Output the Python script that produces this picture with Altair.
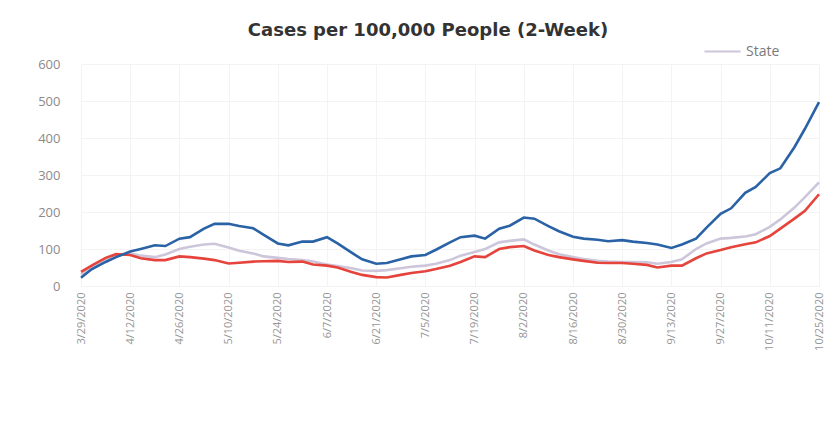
import altair as alt
import pandas as pd

dates = [
    "2020-03-29", "2020-04-01", "2020-04-05", "2020-04-08", "2020-04-12", "2020-04-15",
    "2020-04-19", "2020-04-22", "2020-04-26", "2020-04-29", "2020-05-03", "2020-05-06",
    "2020-05-10", "2020-05-13", "2020-05-17", "2020-05-20", "2020-05-24", "2020-05-27",
    "2020-05-31", "2020-06-03", "2020-06-07", "2020-06-10", "2020-06-14", "2020-06-17",
    "2020-06-21", "2020-06-24", "2020-06-28", "2020-07-01", "2020-07-05", "2020-07-08",
    "2020-07-12", "2020-07-15", "2020-07-19", "2020-07-22", "2020-07-26", "2020-07-29",
    "2020-08-02", "2020-08-05", "2020-08-09", "2020-08-12", "2020-08-16", "2020-08-19",
    "2020-08-23", "2020-08-26", "2020-08-30", "2020-09-02", "2020-09-06", "2020-09-09",
    "2020-09-13", "2020-09-16", "2020-09-20", "2020-09-23", "2020-09-27", "2020-09-30",
    "2020-10-04", "2020-10-07", "2020-10-11", "2020-10-14", "2020-10-18", "2020-10-21",
    "2020-10-25",
]

county = [22, 45, 65, 78, 93, 100, 110, 108, 128, 132, 155, 168, 168, 162, 156, 138,
          115, 110, 120, 120, 132, 115, 90, 72, 60, 62, 72, 80, 84, 98, 118, 132,
          136, 128, 155, 163, 185, 182, 162, 148, 133, 128, 125, 121, 124, 120, 116,
          112, 103, 112, 128, 158, 195, 210, 252, 268, 305, 318, 375, 425, 497]

city = [38, 55, 76, 86, 84, 75, 70, 70, 80, 78, 74, 70, 61, 63, 66, 67, 68, 65, 66,
        58, 55, 50, 38, 30, 24, 23, 30, 35, 40, 46, 55, 65, 80, 78, 100, 105, 108,
        96, 84, 78, 72, 68, 63, 62, 62, 60, 57, 50, 55, 55, 75, 88, 97, 105, 113,
        118, 135, 155, 182, 203, 248]

state = [30, 50, 70, 82, 88, 82, 78, 85, 100, 106, 112, 114, 104, 95, 88, 80, 76, 73,
         70, 66, 58, 54, 48, 42, 41, 43, 48, 52, 55, 60, 70, 82, 92, 100, 118, 122,
         126, 112, 96, 86, 78, 73, 68, 66, 65, 65, 64, 60, 65, 72, 100, 115, 128, 130,
         134, 140, 160, 180, 212, 240, 280]

tick_dates = [(3, 29), (4, 12), (4, 26), (5, 10), (5, 24), (6, 7), (6, 21), (7, 5),
              (7, 19), (8, 2), (8, 16), (8, 30), (9, 13), (9, 27), (10, 11), (10, 25)]

series_names = ["County", "City", "State"]
series_colors = ["#2a62a6", "#e5433c", "#cdc6da"]

rows = []
for name, vals in [("State", state), ("City", city), ("County", county)]:
    for d, v in zip(dates, vals):
        rows.append({"date": d, "series": name, "value": v})
df = pd.DataFrame(rows)

font = "Open Sans"

x_enc = alt.X(
    "date:T",
    scale=alt.Scale(type="utc", domain=[alt.DateTime(year=2020, month=3, date=29, utc=True),
                                        alt.DateTime(year=2020, month=10, date=25, utc=True)]),
    axis=alt.Axis(
        values=[alt.DateTime(year=2020, month=m, date=d, utc=True) for m, d in tick_dates],
        labelExpr="utcFormat(datum.value, '%-m/%-d/%Y')",
        labelAngle=-90,
        labelFontSize=11,
        labelColor="#959595",
        labelFont=font,
        labelPadding=6,
        domain=False,
        ticks=False,
        grid=True,
        gridColor="#f3f3f3",
        title=None,
    ),
)

y_enc = alt.Y(
    "value:Q",
    scale=alt.Scale(domain=[0, 600]),
    axis=alt.Axis(
        values=[0, 100, 200, 300, 400, 500, 600],
        labelFontSize=13,
        labelColor="#8a8a8a",
        labelFont=font,
        labelPadding=21,
        domain=False,
        ticks=False,
        grid=True,
        gridColor="#f3f3f3",
        title=None,
    ),
)

color_enc = alt.Color(
    "series:N",
    scale=alt.Scale(domain=series_names, range=series_colors),
    legend=alt.Legend(
        values=["State"],
        title=None,
        orient="none",
        legendX=622,
        legendY=-32,
        symbolType="stroke",
        symbolSize=1300,
        symbolStrokeWidth=2,
        labelFontSize=14,
        labelColor="#7a7a7a",
        labelFont=font,
    ),
)

def layer(name):
    return (
        alt.Chart(df)
        .transform_filter(alt.datum.series == name)
        .mark_line(strokeWidth=2.6, interpolate="linear")
        .encode(x=x_enc, y=y_enc, color=color_enc)
    )

chart = (
    alt.layer(layer("State"), layer("City"), layer("County"))
    .properties(
        width=738,
        height=222,
        title=alt.TitleParams(
            "Cases per 100,000 People (2-Week)",
            font="DejaVu Sans",
            fontSize=18,
            fontWeight="bold",
            color="#333333",
            dx=-22,
            dy=8,
            offset=0,
        ),
        autosize=alt.AutoSizeParams(type="none"),
        padding={"left": 73, "top": 56, "right": 5, "bottom": 120},
    )
    .configure_view(stroke=None)
)

chart.save("out.html", embed_options={"renderer": "svg", "actions": False})
